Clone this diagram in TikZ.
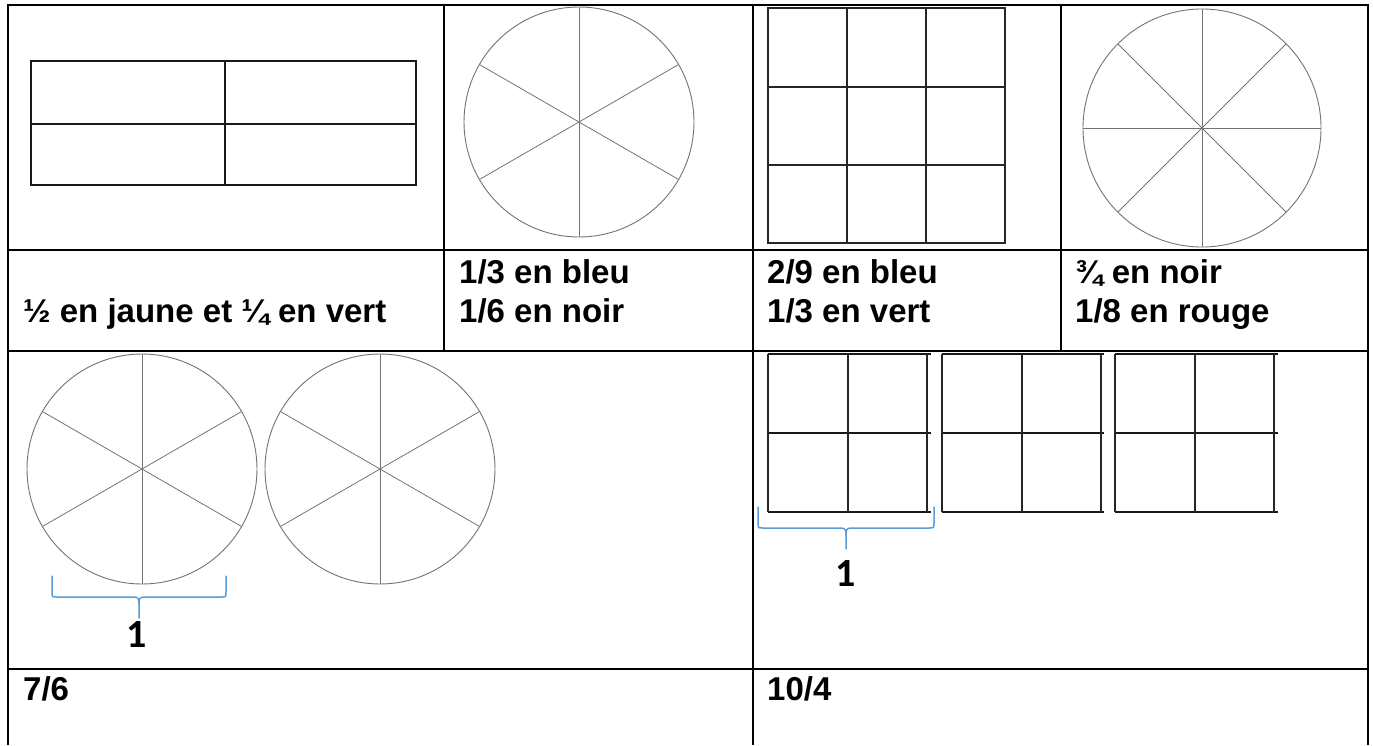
\documentclass[tikz,border=0pt]{standalone}
\usepackage{fontspec}
\setmainfont{Liberation Sans}
\newfontfamily\bracefont{Carlito}
\usepackage{tikz}
\usetikzlibrary{positioning}
\definecolor{braceblue}{RGB}{91,155,213}

\begin{document}
\begin{tikzpicture}[
        x=1pt, y=-1pt,
        rule/.style={line width=2pt, black},
        figline/.style={line width=2pt, black!90},
        thinline/.style={line width=1.1pt, black!85},
        spoke/.style={line width=0.8pt, black!55},
        rim/.style={line width=0.9pt, black!55},
        lbl/.style={anchor=base west, inner sep=0pt, font=\fontsize{33}{39}\selectfont\bfseries},
        brace/.style={line width=1.5pt, braceblue, line cap=round},
        unit/.style={anchor=base, inner sep=0pt, font=\bracefont\fontsize{40}{40}\selectfont\bfseries}
    ]
        \useasboundingbox (0,0) rectangle (1373,745);

        % Table
        \draw[rule] (7.5,5) -- (1368,5);
        \draw[rule] (7.5,4) -- (7.5,745);
        \draw[rule] (1368,4) -- (1368,745);
        \draw[rule] (7.5,250) -- (1368,250);
        \draw[rule] (7.5,351) -- (1368,351);
        \draw[rule] (7.5,669) -- (1368,669);
        \draw[rule] (444,5) -- (444,351);
        \draw[rule] (753,5) -- (753,745);
        \draw[rule] (1061,5) -- (1061,351);

        % Rectangle in four
        \draw[figline] (31,61) rectangle (416,185);
        \draw[figline] (225,61) -- (225,185);
        \draw[figline] (31,124) -- (416,124);

        % Circle in six
        \coordinate (disc6) at (579,122);
        \draw[rim] (disc6) circle (115);
        \foreach \a in {30,90,...,330}
            \draw[spoke] (disc6) -- ++(\a:115);

        % Square in nine
        \draw[thinline] (768,8) rectangle (1005,243);
        \draw[thinline] (847,8) -- (847,243);
        \draw[thinline] (926,8) -- (926,243);
        \draw[thinline] (768,87) -- (1005,87);
        \draw[thinline] (768,165) -- (1005,165);

        % Circle in eight
        \coordinate (disc8) at (1202,128);
        \draw[rim] (disc8) circle (119);
        \foreach \a in {0,45,...,315}
            \draw[spoke] (disc8) -- ++(\a:119);

        % Labels
        \node[lbl] (half) at (23,322) {½ en jaune et ¼ en vert};
        \node[lbl] (thirdA) at (459,283) {1/3 en bleu};
        \node[lbl] (sixthA) at (459,322) {1/6 en noir};
        \node[lbl] (ninthA) at (767,283) {2/9 en bleu};
        \node[lbl] (thirdB) at (767,322) {1/3 en vert};
        \node[lbl] (quarter) at (1075,283) {¾ en noir};
        \node[lbl] (eighth) at (1075,322) {1/8 en rouge};

        % Two circles in six
        \coordinate (discA) at (142,469);
        \coordinate (discB) at (380,469);
        \foreach \c in {discA,discB} {
            \draw[rim] (\c) circle (115);
            \foreach \a in {30,90,...,330}
                \draw[spoke] (\c) -- ++(\a:115);
        }
        \coordinate (tipA) at (139,618);
        \draw[brace] (52,576) -- (52,592) .. controls (52,597) .. (57,597) -- (134,597)
            .. controls (139,597) and (139,600) .. (139,604) -- (tipA);
        \draw[brace] (226,576) -- (226,592) .. controls (226,597) .. (221,597) -- (144,597)
            .. controls (139,597) and (139,600) .. (139,604);
        \node[unit] (oneA) at (137,647) {1};

        % Three squares in four
        \foreach \l/\m/\r/\e in {768/848/927/931, 942/1022/1101/1104, 1115/1195/1274/1278} {
            \draw[figline] (\l,354) -- (\e,354);
            \draw[figline] (\l,433) -- (\e,433);
            \draw[figline] (\l,512) -- (\e,512);
            \draw[thinline, line width=1.5pt] (\l,354) -- (\l,512);
            \draw[thinline, line width=1.5pt] (\m,354) -- (\m,512);
            \draw[thinline, line width=1.5pt] (\r,354) -- (\r,512);
        }
        \coordinate (tipB) at (846,549);
        \draw[brace] (758,507) -- (758,523) .. controls (758,528) .. (763,528) -- (841,528)
            .. controls (846,528) and (846,531) .. (846,535) -- (tipB);
        \draw[brace] (934,507) -- (934,523) .. controls (934,528) .. (929,528) -- (851,528)
            .. controls (846,528) and (846,531) .. (846,535);
        \node[unit] (oneB) at (846,586) {1};

        % Answers
        \node[lbl] (sevensix) at (23,700) {7/6};
        \node[lbl] (tenfour) at (767,700) {10/4};
    \end{tikzpicture}
\end{document}
